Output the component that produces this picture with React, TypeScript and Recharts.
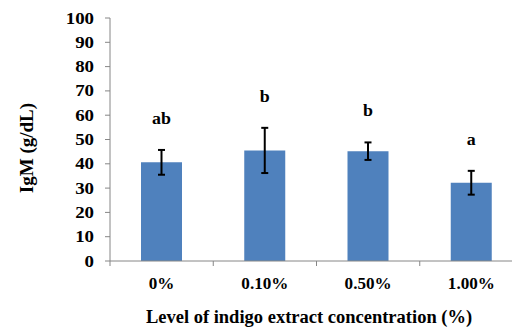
import React from 'react';
import { BarChart, Bar, XAxis, YAxis, ErrorBar, LabelList } from 'recharts';

// IgM by indigo extract level
const levels = ['0%', '0.10%', '0.50%', '1.00%'];
const igmMeans = [40.6, 45.5, 45.2, 32.2];
const igmErrors = [5.1, 9.3, 3.6, 4.9];
const sigLetters = ['ab', 'b', 'b', 'a'];
const yTicks = [0, 10, 20, 30, 40, 50, 60, 70, 80, 90, 100];

const data = levels.map((name, i) => ({ name, igm: igmMeans[i], err: igmErrors[i], letter: sigLetters[i] }));

const FONT = '"Liberation Serif", "Times New Roman", serif';
const AXIS = '#868686';
const BAR = '#4F81BD';

// bold serif text, optionally widened to match the stretched figure
const Txt = ({ x, y, size, sx = 1, anchor = 'middle', children }: any) => (
  <text
    transform={`translate(${x} ${y}) scale(${sx} 1)`}
    textAnchor={anchor}
    fontFamily={FONT}
    fontWeight="bold"
    fontSize={size}
    fill="#000"
  >
    {children}
  </text>
);

const YTick = (props: any) => {
  const { x, y, payload } = props;
  return (
    <Txt x={x} y={y + 5.5} size={16} sx={1.18} anchor="end">
      {payload.value}
    </Txt>
  );
};

const XTick = (props: any) => {
  const { x, y, payload, index, visibleTicksCount } = props;
  const half = payload?.offset ?? 51.6;
  const last = index === visibleTicksCount - 1;
  return (
    <g>
      <line x1={x - half} y1={y} x2={x - half} y2={y + 5} stroke={AXIS} />
      {last && <line x1={x + half} y1={y} x2={x + half} y2={y + 5} stroke={AXIS} />}
      <Txt x={x} y={y + 28} size={16} sx={1.07}>
        {payload.value}
      </Txt>
    </g>
  );
};

const Letter = (props: any) => {
  const { x, y, width, height, value, index } = props;
  const perUnit = height / igmMeans[index];
  const top = y - igmErrors[index] * perUnit;
  return (
    <Txt x={x + width / 2} y={top - 26} size={16} sx={1.12}>
      {value}
    </Txt>
  );
};

export default function App() {
  return (
    <div style={{ position: 'fixed', left: 0, top: 0, width: 512, height: 327, overflow: 'hidden', background: '#fff' }}>
      <BarChart width={530} height={327} data={data} margin={{ top: 18, right: 7, bottom: 0, left: 0 }}>
        <YAxis
          domain={[0, 100]}
          ticks={yTicks}
          width={110}
          interval={0}
          stroke={AXIS}
          tickSize={5}
          tickMargin={11}
          tick={<YTick />}
          label={{
            content: () => (
              <text x={33} y={148} transform="rotate(-90 33 148)" textAnchor="middle" fontFamily={FONT} fontWeight="bold" fontSize={19} fill="#000">
                IgM (g/dL)
              </text>
            ),
          }}
        />
        <XAxis
          dataKey="name"
          height={66}
          stroke={AXIS}
          tickLine={false}
          tickSize={0}
          tickMargin={0}
          interval={0}
          tick={<XTick />}
          label={{
            content: () => (
              <Txt x={309} y={323} size={18.5}>
                Level of indigo extract concentration (%)
              </Txt>
            ),
          }}
        />
        <Bar dataKey="igm" fill={BAR} isAnimationActive={false} barSize={41}>
          <ErrorBar dataKey="err" stroke="#000" strokeWidth={2} width={3.5} />
          <LabelList dataKey="letter" content={<Letter />} />
        </Bar>
      </BarChart>
    </div>
  );
}
